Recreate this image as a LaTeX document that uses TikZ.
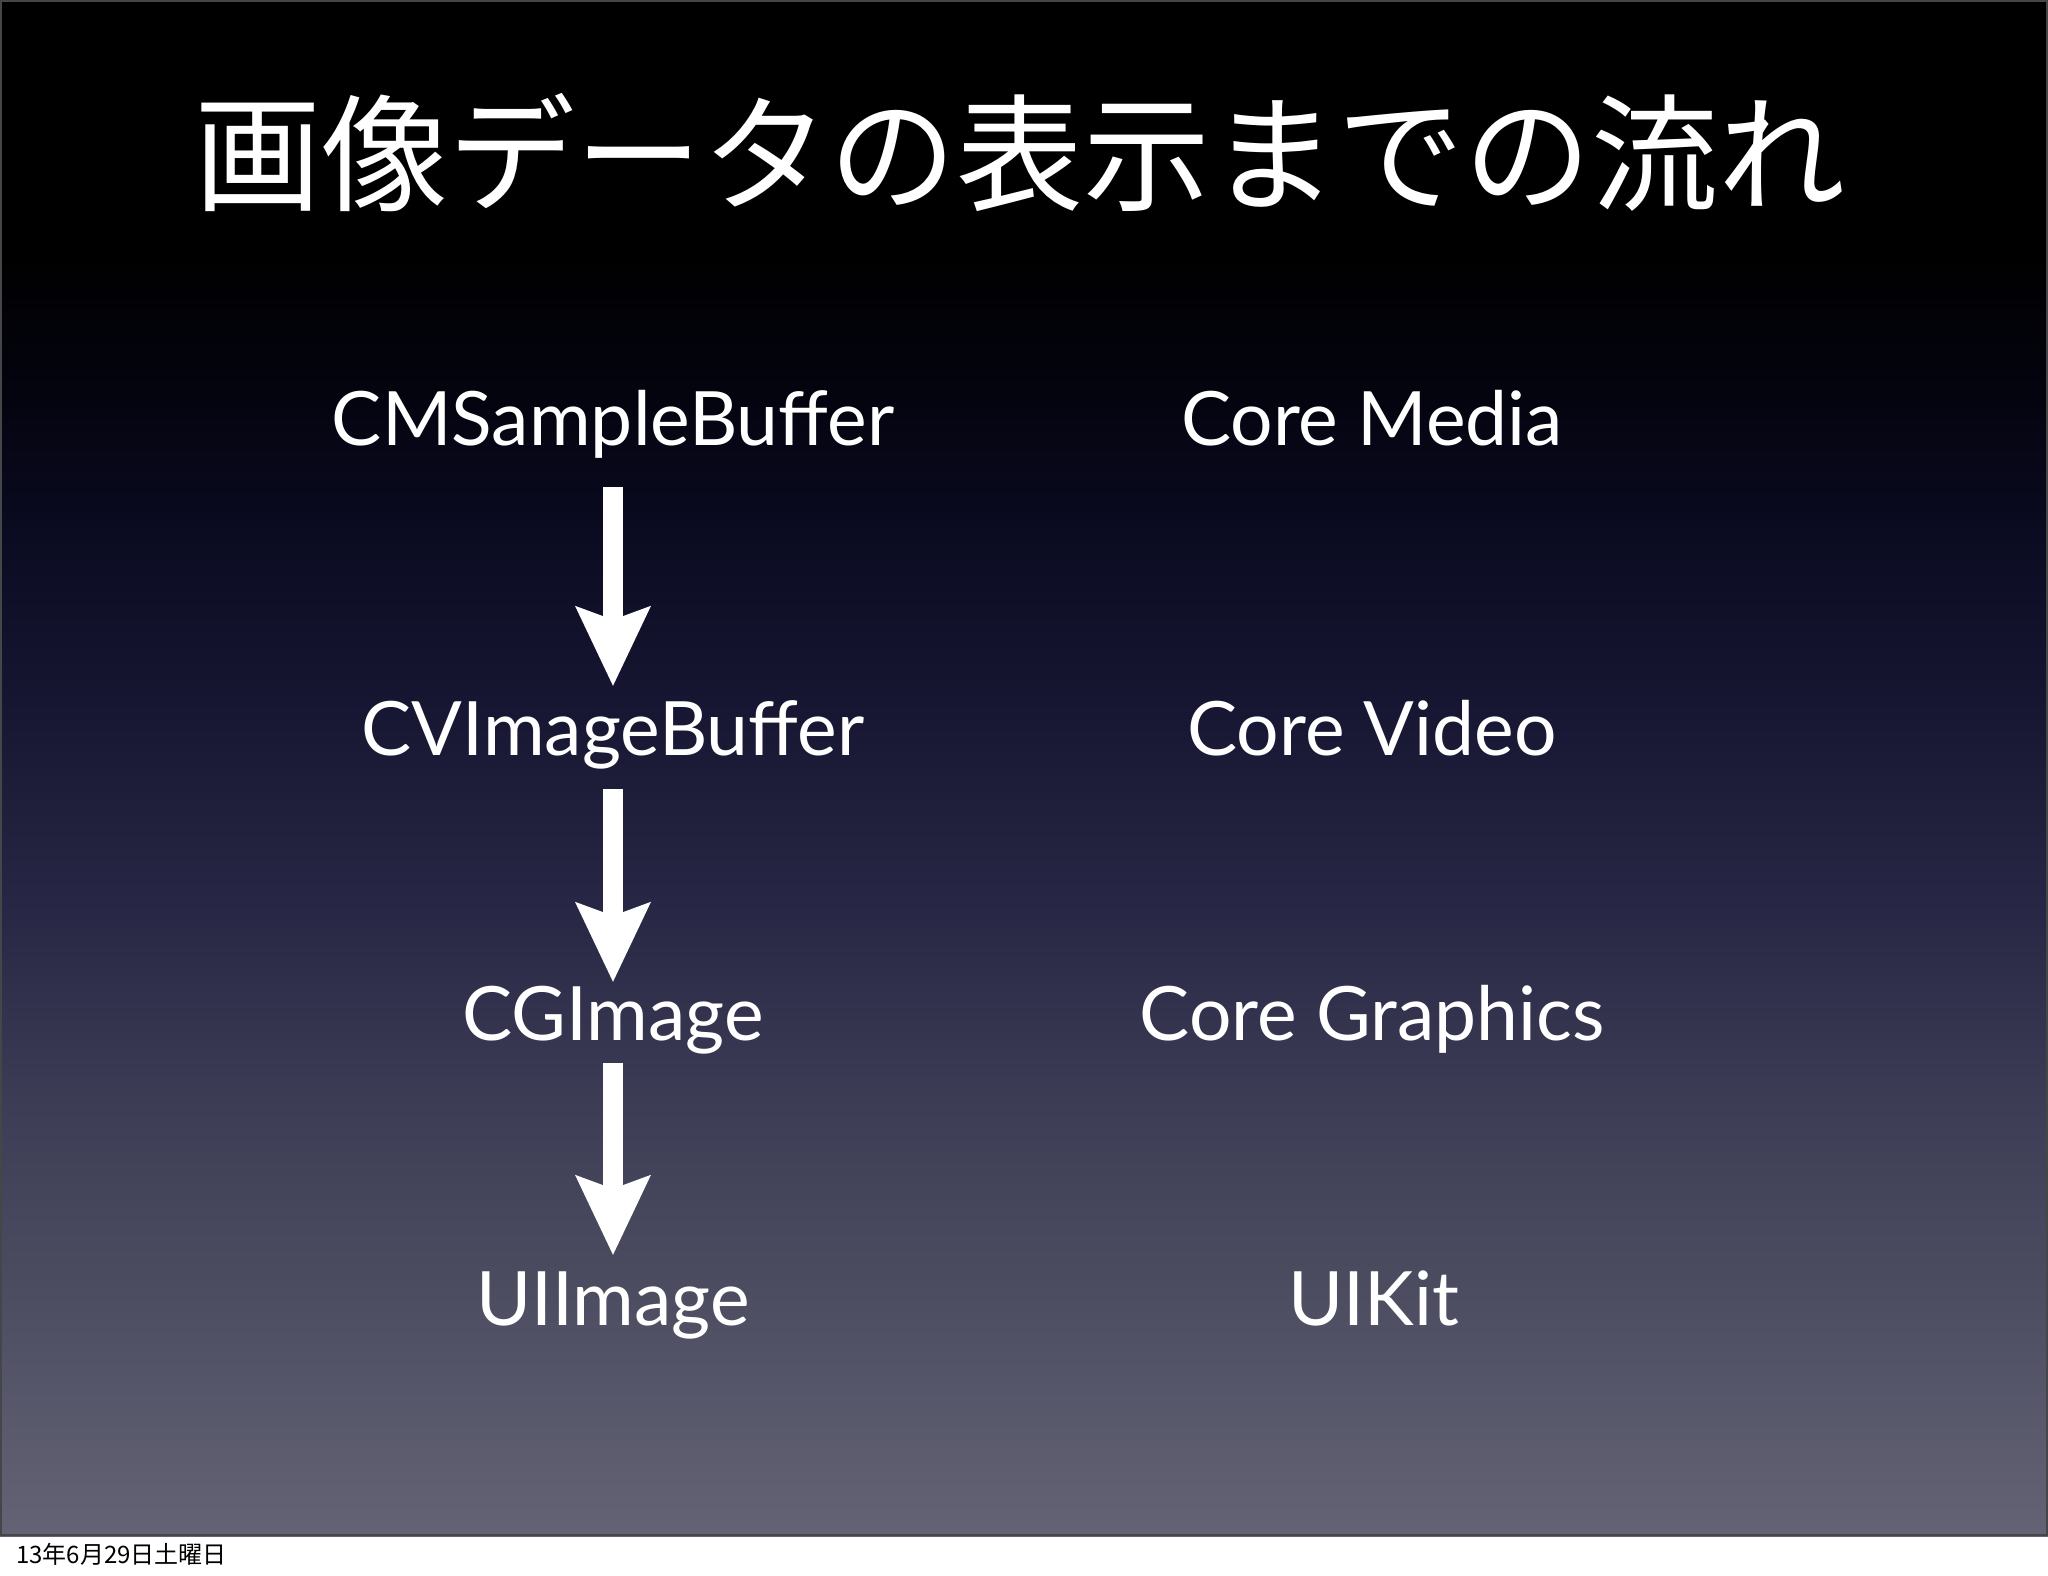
\documentclass[tikz,border=0pt]{standalone}
\usepackage{fontspec}
\setmainfont{Lato}
\newfontfamily\jpfont{Noto Sans CJK JP}
\usetikzlibrary{arrows.meta}
\definecolor{bgA}{RGB}{100,99,118}
\definecolor{bgB}{RGB}{78,78,98}
\definecolor{bgC}{RGB}{60,60,85}
\definecolor{bgD}{RGB}{40,40,70}
\definecolor{bgE}{RGB}{22,22,50}
\definecolor{bgF}{RGB}{10,10,32}
\definecolor{bgG}{RGB}{4,4,16}
\definecolor{bgH}{RGB}{0,0,0}
\definecolor{slideedge}{RGB}{70,70,72}
% the path's bounding box maps to 25bp..75bp of the declared shading
\pgfdeclareverticalshading{slidebg}{100bp}{color(0bp)=(bgA); color(25bp)=(bgA); color(32.5bp)=(bgB); color(39.2bp)=(bgC); color(45.25bp)=(bgD); color(52.2bp)=(bgE); color(58bp)=(bgF); color(62bp)=(bgG); color(67bp)=(bgH); color(75bp)=(bgH); color(100bp)=(bgH)}
\tikzset{
  lbl/.style={text=white, inner sep=0pt, anchor=base, font=\fontsize{75}{88}\selectfont, text height=53pt, text depth=0pt},
  flowarrow/.style={draw=white, line width=20pt, -{Stealth[length=80pt, width=76pt, inset=14pt, line width=0pt]}}
}
\begin{document}
\begin{tikzpicture}[x=1pt,y=-1pt]
\useasboundingbox (0,0) rectangle (2048,1576);
\fill[white] (0,0) rectangle (2048,1576);
\shade[shading=slidebg] (0,0) rectangle (2048,1536);
\draw[slideedge, line width=2pt] (1,1) rectangle (2047,1535);
\node[text=white, inner sep=0pt, anchor=base, font=\jpfont\fontsize{127}{150}\selectfont] (title) at (1020,201) {画像データの表示までの流れ};
\node[lbl] (cm) at (613,445) {CMSampleBuffer};
\node[lbl] (cv) at (613,755) {CVImageBuffer};
\node[lbl] (cg) at (613,1040) {CGImage};
\node[lbl] (ui) at (613,1325) {UIImage};
\node[lbl] (fcm) at (1372,445) {Core Media};
\node[lbl] (fcv) at (1372,755) {Core Video};
\node[lbl] (fcg) at (1372,1040) {Core Graphics};
\node[lbl] (fui) at (1374,1325) {UIKit};
\draw[flowarrow, shorten <=42pt, shorten >=16pt] (cm.south) -- (cv.north);
\draw[flowarrow, shorten <=34pt, shorten >=5pt] (cv.south) -- (cg.north);
\draw[flowarrow, shorten <=23pt, shorten >=17pt] (cg.south) -- (ui.north);
\node[text=black, inner sep=0pt, anchor=base west, font=\jpfont\fontsize{24}{28}\selectfont] (date) at (16,1563) {13年6月29日土曜日};
\end{tikzpicture}
\end{document}
